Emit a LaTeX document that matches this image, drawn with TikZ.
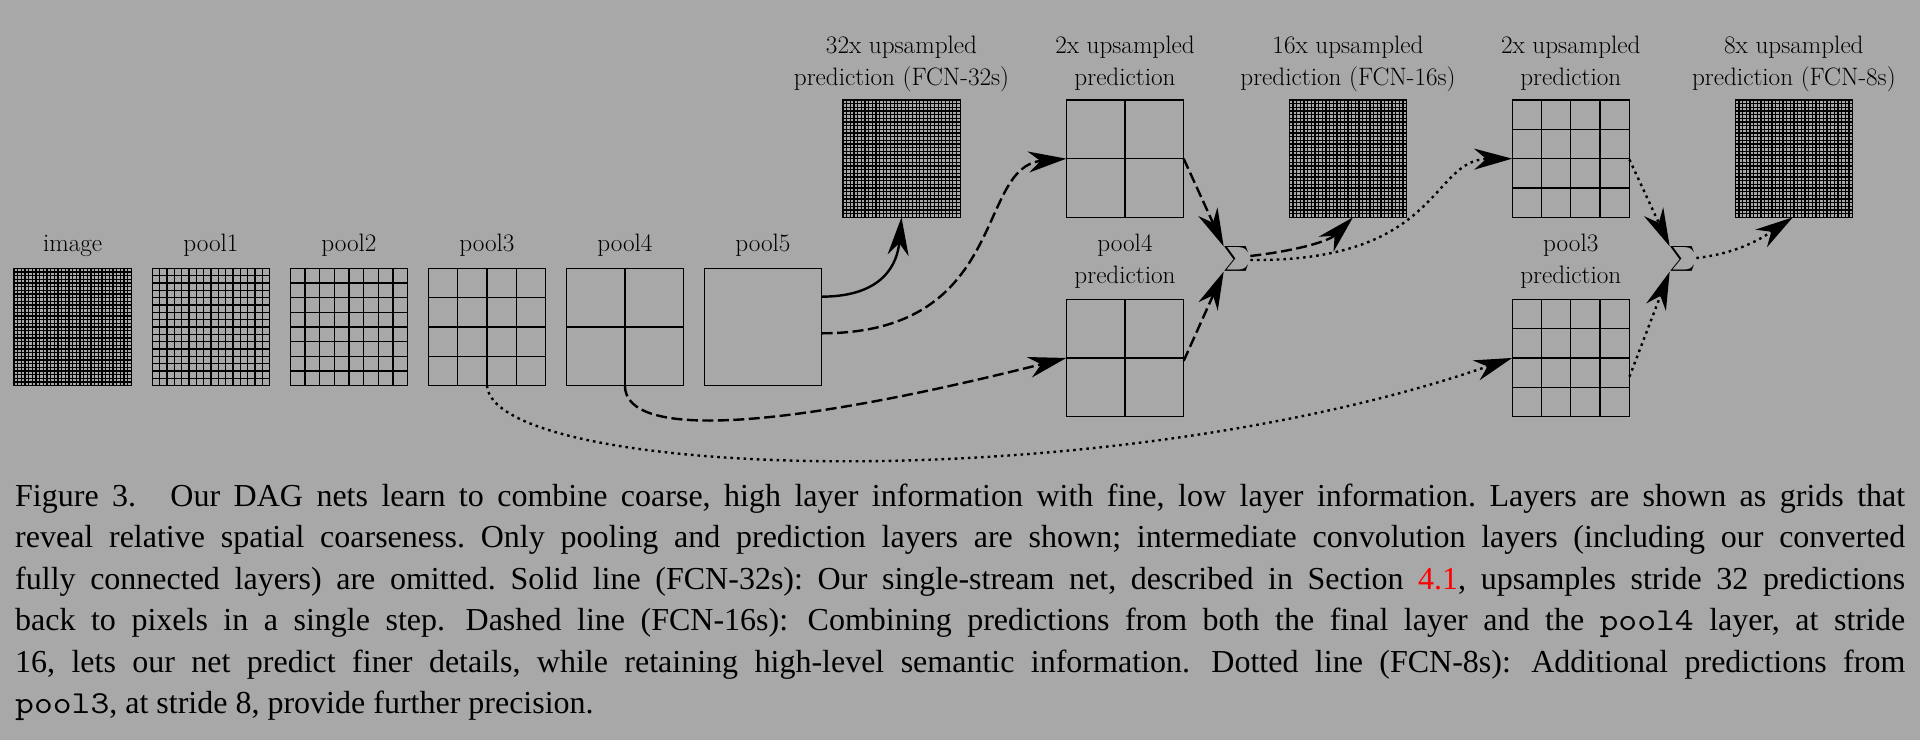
\documentclass[tikz,border=0pt]{standalone}
\usepackage{amsmath}
\usepackage{fontspec}
\newfontfamily\capfont{Liberation Serif}
\newfontfamily\courfont{Latin Modern Mono}[FakeStretch=1.143]
\newcommand\codetxt[1]{{\courfont #1}}
\usetikzlibrary{arrows.meta,calc}
\definecolor{bg}{RGB}{168,168,168}
\newcommand\mkgrid[4]{%
  \node[cellbox] (#1) at (#2,#3) {};
  \ifnum#4>1
    \pgfmathsetmacro\grdstep{117.3/#4}
    \pgfmathtruncatemacro\grdmax{#4-1}
    \foreach \k in {1,...,\grdmax}{
      \draw[gline] ({#2-58.65+\k*\grdstep},{#3-58.65}) -- ({#2-58.65+\k*\grdstep},{#3+58.65});
      \draw[gline] ({#2-58.65},{#3-58.65+\k*\grdstep}) -- ({#2+58.65},{#3-58.65+\k*\grdstep});
    }
  \fi
}
\begin{document}
\begin{tikzpicture}[x=1pt,y=-1pt,
  cellbox/.style={draw=black, line width=1.3pt, minimum size=117.3pt, inner sep=0pt, outer sep=0pt},
  gline/.style={line width=1.3pt},
  lab/.style={anchor=base, inner sep=0pt, font=\fontsize{25.2}{30}\selectfont},
  sig/.style={inner sep=0pt, font=\fontsize{24.5}{30}\selectfont},
  captext/.style={anchor=base west, inner sep=0pt, font=\capfont\fontsize{32}{40}\selectfont\frenchspacing},
  conn/.style={line width=2.4pt, -{Stealth[length=38pt,width=21pt,inset=12pt]}},
  solidc/.style={conn},
  dashc/.style={conn, dash pattern=on 11pt off 4.5pt},
  dotc/.style={conn, dash pattern=on 2.6pt off 4pt}
]
\useasboundingbox (0,0) rectangle (1920,740);
\fill[bg] (0,0) rectangle (1920,740);

% bottom row of layers
\mkgrid{img}{72.65}{326.95}{32}
\mkgrid{p1}{210.95}{326.95}{16}
\mkgrid{p2}{348.95}{326.95}{8}
\mkgrid{p3}{486.95}{326.95}{4}
\mkgrid{p4}{624.95}{326.95}{2}
\mkgrid{p5}{762.95}{326.95}{1}
\node[lab] (limg) at (72.65,251.7) {image};
\node[lab] (lp1) at (210.95,251.7) {pool1};
\node[lab] (lp2) at (348.95,251.7) {pool2};
\node[lab] (lp3) at (486.95,251.7) {pool3};
\node[lab] (lp4) at (624.95,251.7) {pool4};
\node[lab] (lp5) at (762.95,251.7) {pool5};

% top row
\mkgrid{up32}{901.5}{158.65}{32}
\mkgrid{up2a}{1125}{158.65}{2}
\mkgrid{up16}{1348}{158.65}{32}
\mkgrid{up2b}{1570.8}{158.65}{4}
\mkgrid{up8}{1793.85}{158.65}{32}
\node[lab] (l32a) at (901.5,53) {32x upsampled};
\node[lab] (l32b) at (901.5,85) {prediction (FCN-32s)};
\node[lab] (l2aa) at (1125,53) {2x upsampled};
\node[lab] (l2ab) at (1125,85) {prediction};
\node[lab] (l16a) at (1348,53) {16x upsampled};
\node[lab] (l16b) at (1348,85) {prediction (FCN-16s)};
\node[lab] (l2ba) at (1570.8,53) {2x upsampled};
\node[lab] (l2bb) at (1570.8,85) {prediction};
\node[lab] (l8a) at (1793.85,53) {8x upsampled};
\node[lab] (l8b) at (1793.85,85) {prediction (FCN-8s)};

% prediction row
\mkgrid{pr4}{1125}{357.95}{2}
\mkgrid{pr3}{1570.8}{357.95}{4}
\node[lab] (lpr4a) at (1125,251.7) {pool4};
\node[lab] (lpr4b) at (1125,283.3) {prediction};
\node[lab] (lpr3a) at (1570.8,251.7) {pool3};
\node[lab] (lpr3b) at (1570.8,283.3) {prediction};

% sums
\node[sig] (s1) at (1237,259) {$\sum$};
\node[sig] (s2) at (1683,259) {$\sum$};

% solid: FCN-32s
\draw[solidc] ([yshift=30.3pt]p5.east) .. controls +(63,0) and +(-4,45) .. (up32.south);

% dashed: FCN-16s
\draw[dashc] ([yshift=-6.35pt]p5.east) .. controls +(188,0) and +(-91,8) .. (up2a.west);
\draw[dashc] (up2a.east) -- (s1.north west);
\draw[dashc] (p4.south) .. controls +(0,54) and +(-286,72) .. (pr4.west);
\draw[dashc] ([yshift=-3pt]pr4.east) -- (s1.south west);
\draw[dashc] ([yshift=3pt]s1.east) .. controls +(51,-6) and +(-23,23) .. ([xshift=5pt]up16.south);

% dotted: FCN-8s
\draw[dotc] ([yshift=-1pt]s1.east) .. controls +(191,2) and +(-82,1) .. (up2b.west);
\draw[dotc] (p3.south) .. controls +(8,94) and +(-412,142) .. (pr3.west);
\draw[dotc] ([yshift=-1pt]up2b.east) -- (s2.north west);
\draw[dotc] ([yshift=-18.7pt]pr3.east) -- (s2.south west);
\draw[dotc] ([yshift=1pt]s2.east) .. controls +(45,-5) and +(-27,18) .. ([xshift=-1pt]up8.south);

% caption
\node[captext] (c1) at (15,506) {\makebox[1890pt][s]{Figure 3.\hspace{0.65em} Our DAG nets learn to combine coarse, high layer information with fine, low layer information. Layers are shown as grids that}};
\node[captext] (c2) at (15,547.5) {\makebox[1890pt][s]{reveal relative spatial coarseness. Only pooling and prediction layers are shown; intermediate convolution layers (including our converted}};
\node[captext] (c3) at (15,589) {\makebox[1890pt][s]{fully connected layers) are omitted. Solid line (FCN-32s): Our single-stream net, described in Section \textcolor{red}{4.1}, upsamples stride 32 predictions}};
\node[captext] (c4) at (15,630.5) {\makebox[1890pt][s]{back to pixels in a single step.\hspace{5pt} Dashed line (FCN-16s):\hspace{4pt} Combining predictions from both the final layer and the \codetxt{pool4} layer, at stride}};
\node[captext] (c5) at (15,672) {\makebox[1890pt][s]{16, lets our net predict finer details, while retaining high-level semantic information.\hspace{5pt} Dotted line (FCN-8s):\hspace{4pt} Additional predictions from}};
\node[captext] (c6) at (15,713.5) {\codetxt{pool3}, at stride 8, provide further precision.};
\end{tikzpicture}
\end{document}
